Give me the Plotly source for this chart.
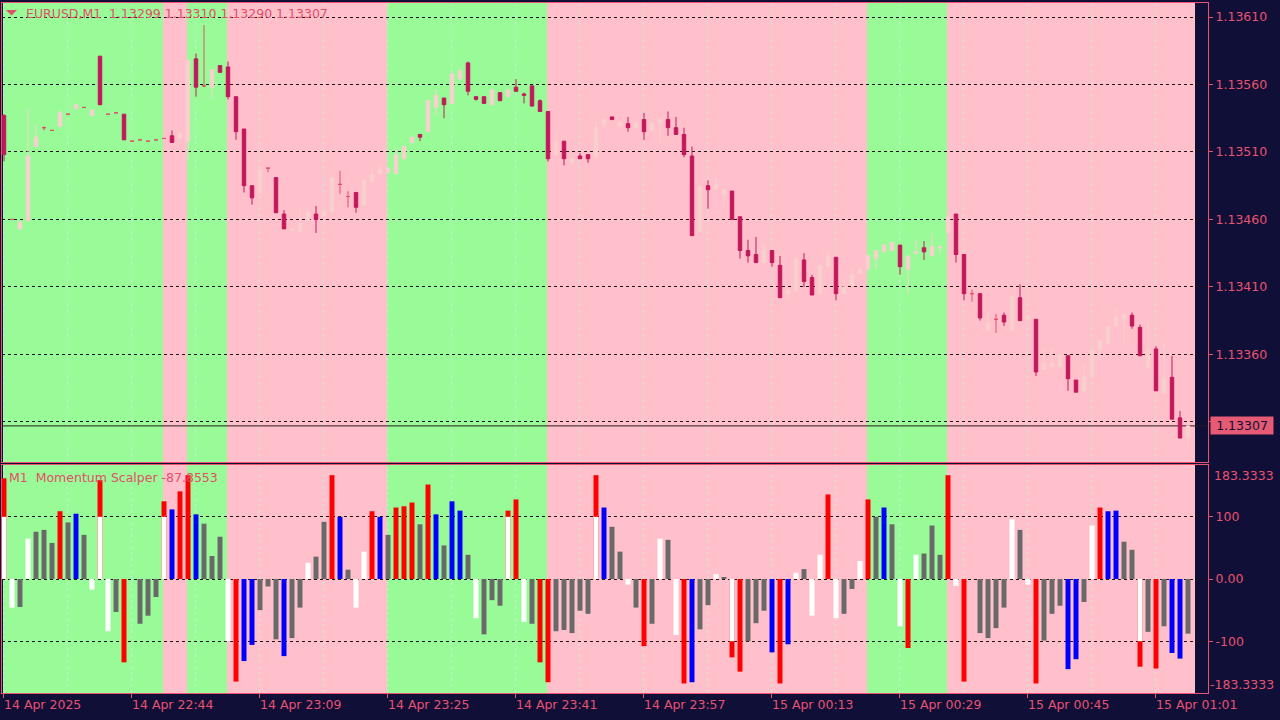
import plotly.graph_objects as go

# ---------------- data ----------------
open_p = [1.13537, 1.13460, 1.13453, 1.13459, 1.13514, 1.13528, 1.13526, 1.13529, 1.13538, 1.13542,
          1.13543, 1.13537, 1.13581, 1.13538, 1.13539, 1.13538, 1.13518, 1.13519, 1.13518, 1.13519,
          1.13520, 1.13522, 1.13520, 1.13518, 1.13579, 1.13559, 1.13558, 1.13574, 1.13573, 1.13551,
          1.13527, 1.13485, 1.13480, 1.13498, 1.13491, 1.13464, 1.13452, 1.13451, 1.13459, 1.13464,
          1.13462, 1.13466, 1.13486, 1.13477, 1.13480, 1.13471, 1.13488, 1.13494, 1.13495, 1.13494,
          1.13505, 1.13517, 1.13523, 1.13525, 1.13543, 1.13550, 1.13546, 1.13564, 1.13576, 1.13551,
          1.13551, 1.13545, 1.13554, 1.13551, 1.13558, 1.13553, 1.13559, 1.13548, 1.13540, 1.13508,
          1.13518, 1.13502, 1.13507, 1.13508, 1.13506, 1.13531, 1.13536, 1.13529, 1.13531, 1.13528,
          1.13534, 1.13526, 1.13532, 1.13534, 1.13528, 1.13523, 1.13507, 1.13451, 1.13485, 1.13483,
          1.13479, 1.13481, 1.13462, 1.13437, 1.13434, 1.13428, 1.13437, 1.13426, 1.13405, 1.13407,
          1.13430, 1.13417, 1.13405, 1.13425, 1.13432, 1.13405, 1.13411, 1.13420, 1.13423, 1.13431,
          1.13436, 1.13437, 1.13441, 1.13423, 1.13435, 1.13439, 1.13433, 1.13439, 1.13450, 1.13464,
          1.13434, 1.13405, 1.13405, 1.13378, 1.13386, 1.13389, 1.13378, 1.13402, 1.13386, 1.13386,
          1.13349, 1.13351, 1.13351, 1.13359, 1.13341, 1.13333, 1.13344, 1.13364, 1.13368, 1.13381,
          1.13386, 1.13389, 1.13380, 1.13350, 1.13364, 1.13332, 1.13343, 1.13313, 1.13299]
high_p = [1.13538, 1.13460, 1.13458, 1.13542, 1.13531, 1.13529, 1.13526, 1.13541, 1.13538, 1.13545,
          1.13543, 1.13541, 1.13581, 1.13538, 1.13539, 1.13538, 1.13518, 1.13519, 1.13518, 1.13519,
          1.13520, 1.13526, 1.13524, 1.13578, 1.13583, 1.13604, 1.13571, 1.13574, 1.13577, 1.13551,
          1.13527, 1.13485, 1.13497, 1.13498, 1.13491, 1.13467, 1.13453, 1.13467, 1.13469, 1.13470,
          1.13466, 1.13491, 1.13496, 1.13481, 1.13480, 1.13489, 1.13498, 1.13502, 1.13498, 1.13513,
          1.13514, 1.13521, 1.13523, 1.13548, 1.13556, 1.13550, 1.13568, 1.13573, 1.13577, 1.13551,
          1.13551, 1.13556, 1.13554, 1.13556, 1.13564, 1.13554, 1.13559, 1.13549, 1.13540, 1.13526,
          1.13518, 1.13505, 1.13509, 1.13508, 1.13533, 1.13534, 1.13536, 1.13532, 1.13536, 1.13532,
          1.13539, 1.13531, 1.13535, 1.13540, 1.13536, 1.13528, 1.13514, 1.13484, 1.13489, 1.13491,
          1.13482, 1.13481, 1.13462, 1.13445, 1.13447, 1.13442, 1.13437, 1.13433, 1.13408, 1.13431,
          1.13435, 1.13419, 1.13426, 1.13437, 1.13432, 1.13416, 1.13423, 1.13423, 1.13433, 1.13437,
          1.13442, 1.13443, 1.13441, 1.13433, 1.13445, 1.13444, 1.13450, 1.13440, 1.13462, 1.13464,
          1.13434, 1.13408, 1.13405, 1.13390, 1.13390, 1.13391, 1.13403, 1.13412, 1.13389, 1.13386,
          1.13364, 1.13364, 1.13360, 1.13359, 1.13341, 1.13352, 1.13363, 1.13370, 1.13380, 1.13394,
          1.13390, 1.13391, 1.13382, 1.13384, 1.13366, 1.13368, 1.13359, 1.13318, 1.13310]
low_p = [1.13503, 1.13460, 1.13453, 1.13459, 1.13514, 1.13526, 1.13526, 1.13529, 1.13538, 1.13542,
         1.13543, 1.13537, 1.13545, 1.13538, 1.13539, 1.13519, 1.13518, 1.13519, 1.13518, 1.13519,
         1.13520, 1.13517, 1.13520, 1.13505, 1.13551, 1.13558, 1.13549, 1.13569, 1.13549, 1.13519,
         1.13480, 1.13471, 1.13480, 1.13495, 1.13465, 1.13453, 1.13452, 1.13451, 1.13459, 1.13450,
         1.13462, 1.13466, 1.13479, 1.13469, 1.13465, 1.13471, 1.13488, 1.13494, 1.13495, 1.13494,
         1.13505, 1.13517, 1.13518, 1.13525, 1.13537, 1.13535, 1.13546, 1.13564, 1.13552, 1.13548,
         1.13546, 1.13545, 1.13548, 1.13551, 1.13555, 1.13546, 1.13544, 1.13540, 1.13503, 1.13508,
         1.13500, 1.13502, 1.13505, 1.13502, 1.13506, 1.13527, 1.13534, 1.13529, 1.13525, 1.13528,
         1.13519, 1.13526, 1.13517, 1.13522, 1.13523, 1.13506, 1.13448, 1.13451, 1.13468, 1.13483,
         1.13469, 1.13460, 1.13431, 1.13428, 1.13428, 1.13428, 1.13425, 1.13402, 1.13400, 1.13407,
         1.13410, 1.13404, 1.13405, 1.13425, 1.13400, 1.13405, 1.13411, 1.13420, 1.13423, 1.13423,
         1.13436, 1.13437, 1.13419, 1.13405, 1.13435, 1.13430, 1.13433, 1.13435, 1.13450, 1.13428,
         1.13400, 1.13399, 1.13385, 1.13378, 1.13376, 1.13381, 1.13378, 1.13385, 1.13386, 1.13344,
         1.13349, 1.13351, 1.13351, 1.13333, 1.13332, 1.13333, 1.13344, 1.13356, 1.13368, 1.13381,
         1.13367, 1.13379, 1.13359, 1.13350, 1.13333, 1.13332, 1.13312, 1.13298, 1.13290]
close_p = [1.13508, 1.13460, 1.13458, 1.13507, 1.13521, 1.13528, 1.13526, 1.13539, 1.13538, 1.13545,
           1.13543, 1.13541, 1.13545, 1.13538, 1.13539, 1.13519, 1.13518, 1.13519, 1.13518, 1.13519,
           1.13520, 1.13517, 1.13524, 1.13578, 1.13558, 1.13559, 1.13571, 1.13569, 1.13551, 1.13525,
           1.13485, 1.13476, 1.13497, 1.13498, 1.13465, 1.13453, 1.13453, 1.13457, 1.13465, 1.13460,
           1.13466, 1.13491, 1.13486, 1.13477, 1.13469, 1.13489, 1.13493, 1.13497, 1.13498, 1.13508,
           1.13514, 1.13521, 1.13521, 1.13548, 1.13552, 1.13545, 1.13568, 1.13570, 1.13555, 1.13549,
           1.13546, 1.13556, 1.13548, 1.13556, 1.13555, 1.13552, 1.13544, 1.13540, 1.13505, 1.13517,
           1.13505, 1.13505, 1.13505, 1.13505, 1.13528, 1.13534, 1.13534, 1.13532, 1.13528, 1.13532,
           1.13525, 1.13531, 1.13535, 1.13528, 1.13523, 1.13508, 1.13448, 1.13484, 1.13482, 1.13486,
           1.13482, 1.13460, 1.13437, 1.13433, 1.13428, 1.13438, 1.13428, 1.13402, 1.13408, 1.13431,
           1.13414, 1.13404, 1.13426, 1.13433, 1.13405, 1.13410, 1.13419, 1.13423, 1.13433, 1.13437,
           1.13441, 1.13443, 1.13425, 1.13433, 1.13436, 1.13436, 1.13440, 1.13440, 1.13462, 1.13434,
           1.13405, 1.13405, 1.13387, 1.13383, 1.13386, 1.13384, 1.13403, 1.13385, 1.13389, 1.13347,
           1.13353, 1.13353, 1.13360, 1.13342, 1.13332, 1.13344, 1.13363, 1.13370, 1.13380, 1.13387,
           1.13390, 1.13381, 1.13359, 1.13363, 1.13333, 1.13342, 1.13312, 1.13298, 1.13307]

mom_values = [162, -46, -45, 65, 76, 79, 58, 109, 91, 105, 71, -17, 159, -84, -53, -134, 0, -72, -59, -29,
              125, 112, 141, 167, 104, 89, 37, 68, -100, -165, -132, -106, -50, -12, -97, -124, -95, -46, 26, 36,
              92, 167, 100, 15, -46, 44, 109, 100, 71, 115, 117, 123, 88, 152, 104, 54, 125, 110, 39, -63,
              -89, -34, -43, 110, 128, -69, -72, -134, -166, -84, -82, -87, -51, -56, 167, 115, 84, 44, -9, -46,
              -108, -72, 65, 63, -90, -168, -166, -81, -42, 8, 2, -126, -149, -100, -71, -51, -118, -168, -105, 10,
              16, -59, 39, 136, -63, -56, -16, 29, 128, 100, 115, 88, -76, -111, 39, 41, 86, 39, 167, -11,
              -165, 0, -87, -95, -79, -46, 96, 79, -9, -168, -99, -56, -43, -145, -129, -37, 86, 115, 109, 110,
              60, 47, -141, -85, -144, -76, -119, -128, -87.8553]
mom_color_codes = list("RWGWGGGRGBGWRWGRGGGG" "RBRRBGGGWRBBGGGBGGWG" "GRBGWWRBGRRRGRBGBBGW"
                       "GGGRRWGRRGGGGGRBGGWG" "RGWGWRBGGWGRRGGGBRBW" "GWWRWGGWRGBGWRWGGGRW"
                       "RGGGGGWGWRGGGBBGWRBB" "GGRGRGBBG")
cap_index = [0, 12, 20, 63, 74, 91, 142]
cap_value = [100, 100, 100, 100, 100, -100, -100]

tick_bars = [0, 16, 32, 48, 64, 80, 96, 112, 128, 144]
tick_labels = ["14 Apr 2025", "14 Apr 22:44", "14 Apr 23:09", "14 Apr 23:25", "14 Apr 23:41",
               "14 Apr 23:57", "15 Apr 00:13", "15 Apr 00:29", "15 Apr 00:45", "15 Apr 01:01"]
grid_bars = [0, 8, 16, 24, 32, 40, 48, 56, 64, 72, 80, 88, 96, 104, 112, 120, 128, 136, 144]
price_ticks = [1.13310, 1.13360, 1.13410, 1.13460, 1.13510, 1.13560, 1.13610]
mom_ticks = [-100, 0, 100]
mom_tick_labels = ["-100", "0.00", "100"]

zone_start = [0, 20, 23, 28, 48, 68, 108, 118]
zone_end = [20, 23, 28, 48, 68, 108, 118, 149]
zone_kind = ["up", "down", "up", "down", "up", "down", "up", "down"]

last_price = 1.13307
title_text = "EURUSD,M1\u00a0 1.13299 1.13310 1.13290 1.13307"
ind_text = "M1\u00a0 Momentum Scalper -87.8553"

# ---------------- style ----------------
NAVY = "#0F0F38"
TEXT = "#E8536F"
BEAR = "#C2185B"
BULL = "#F9D0CE"
DOJI = "#E0506A"
GREEN = "#98FB98"
PINK = "#FFC0CB"
VGRID = "#C4ECCE"
HGRID = "#1E1414"
HIST = {"R": "#FF0000", "B": "#0000FF", "G": "#696969", "W": "#FFFFFF"}
FONT = "DejaVu Sans"
PRICE_RANGE = [1.132799, 1.136204]
MOM_RANGE = [-183.3333, 183.3333]

fig = go.Figure()

idx = list(range(len(open_p)))
groups = [
    ([i for i in idx if close_p[i] > open_p[i]], BULL),
    ([i for i in idx if close_p[i] < open_p[i]], BEAR),
    ([i for i in idx if close_p[i] == open_p[i]], DOJI),
]
for ids, col in groups:
    fig.add_trace(go.Candlestick(
        x=ids,
        open=[open_p[i] for i in ids], high=[high_p[i] for i in ids],
        low=[low_p[i] for i in ids], close=[close_p[i] for i in ids],
        increasing=dict(line=dict(color=col, width=1), fillcolor=col),
        decreasing=dict(line=dict(color=col, width=1), fillcolor=col),
        whiskerwidth=0, xaxis="x", yaxis="y", hoverinfo="skip", showlegend=False))

fig.add_trace(go.Bar(x=idx, y=mom_values, width=0.62,
                     marker=dict(color=[HIST[c] for c in mom_color_codes], line=dict(width=0), opacity=1),
                     xaxis="x2", yaxis="y2", hoverinfo="skip", showlegend=False))
fig.add_trace(go.Bar(x=cap_index, y=cap_value, width=0.62,
                     marker=dict(color="#FFFFFF", line=dict(width=0), opacity=1),
                     xaxis="x2", yaxis="y2", hoverinfo="skip", showlegend=False))

shapes = []
panels = (("x", "y domain"), ("x2", "y2 domain"))
for s, e, k in zip(zone_start, zone_end, zone_kind):
    for xr, yr in panels:
        shapes.append(dict(type="rect", xref=xr, yref=yr,
                           x0=s - 0.125, x1=e - 0.125, y0=0, y1=1,
                           fillcolor=GREEN if k == "up" else PINK, line=dict(width=0), layer="below"))
# vertical dashed grid, under the candles and bars
for g in grid_bars:
    for xr, yr in panels:
        shapes.append(dict(type="line", xref=xr, yref=yr, x0=g - 0.0625, x1=g - 0.0625, y0=0, y1=1,
                           line=dict(color=VGRID, width=1, dash="3px,3px"), layer="below"))
shapes.append(dict(type="line", xref="paper", yref="y", x0=0, x1=1, y0=last_price, y1=last_price,
                   line=dict(color="#2B1B1B", width=1), layer="below"))
shapes.append(dict(type="path", xref="paper", yref="paper", xsizemode="pixel", ysizemode="pixel",
                   xanchor=0, yanchor=1, path="M4,-7 L15,-7 L9.5,-12.5 Z",
                   fillcolor=DOJI, line=dict(width=0), layer="above"))

xcommon = dict(range=[-0.25, 150.5], tickmode="array", tickvals=[b - 0.125 for b in tick_bars],
               showgrid=False, showline=True, mirror=True, linecolor=TEXT, linewidth=1, zeroline=False,
               rangeslider=dict(visible=False), fixedrange=True, automargin=False)
ycommon = dict(side="right", ticks="outside", ticklen=4, tickcolor=TEXT, showgrid=True, gridcolor=HGRID,
               griddash="3px,3px", gridwidth=1, showline=True, mirror=True, linecolor=TEXT, linewidth=1,
               zeroline=False, tickfont=dict(family=FONT, size=12.5, color=TEXT), fixedrange=True,
               automargin=False)

fig.update_layout(
    width=1280, height=720, autosize=False,
    margin=dict(l=2, r=72, t=3, b=27, pad=0),
    paper_bgcolor=NAVY, plot_bgcolor=NAVY,
    showlegend=False, hovermode=False, barmode="overlay", boxgap=0.38,
    font=dict(family=FONT, size=12.5, color=TEXT),
    xaxis=dict(domain=[0, 1], anchor="y", showticklabels=False, ticks="", **xcommon),
    xaxis2=dict(domain=[0, 1], anchor="y2", ticktext=tick_labels, ticks="outside", ticklen=4,
                tickcolor=TEXT, ticklabelposition="outside right",
                tickfont=dict(family=FONT, size=12.5, color=TEXT), **xcommon),
    yaxis=dict(domain=[0.3341, 1], anchor="x", range=PRICE_RANGE, tickmode="array",
               tickvals=price_ticks, ticktext=["" if v == 1.13310 else "%.5f" % v for v in price_ticks],
               **ycommon),
    yaxis2=dict(domain=[0, 0.3304], anchor="x2", range=MOM_RANGE, tickmode="array",
                tickvals=mom_ticks, ticktext=mom_tick_labels, **ycommon),
    shapes=shapes,
    annotations=[
        dict(text=title_text, xref="paper", yref="paper", x=0, y=1, xanchor="left", yanchor="middle",
             xshift=22, yshift=-10, showarrow=False, font=dict(family=FONT, size=12.5, color=DOJI)),
        dict(text=ind_text, xref="paper", yref="y2 domain", x=0, y=1, xanchor="left", yanchor="middle",
             xshift=5, yshift=-12, showarrow=False, font=dict(family=FONT, size=12.5, color=DOJI)),
        dict(text="183.3333", xref="paper", yref="y2 domain", x=1, y=1, xanchor="left", yanchor="middle",
             xshift=4, yshift=-10, showarrow=False, font=dict(family=FONT, size=12.5, color=TEXT)),
        dict(text="-183.3333", xref="paper", yref="y2 domain", x=1, y=0, xanchor="left", yanchor="middle",
             xshift=0, yshift=9, showarrow=False, font=dict(family=FONT, size=12.5, color=TEXT)),
        dict(text="%.5f" % last_price, xref="paper", yref="y", x=1, y=last_price, xanchor="left",
             yanchor="middle", xshift=2, showarrow=False, bgcolor="#E65A73", borderpad=1,
             width=60, height=15, font=dict(family=FONT, size=12.5, color=NAVY)),
    ],
)

fig.write_html("out.html", config={"displayModeBar": False},
               post_script="document.body.style.margin='0';document.body.style.padding='0';")
